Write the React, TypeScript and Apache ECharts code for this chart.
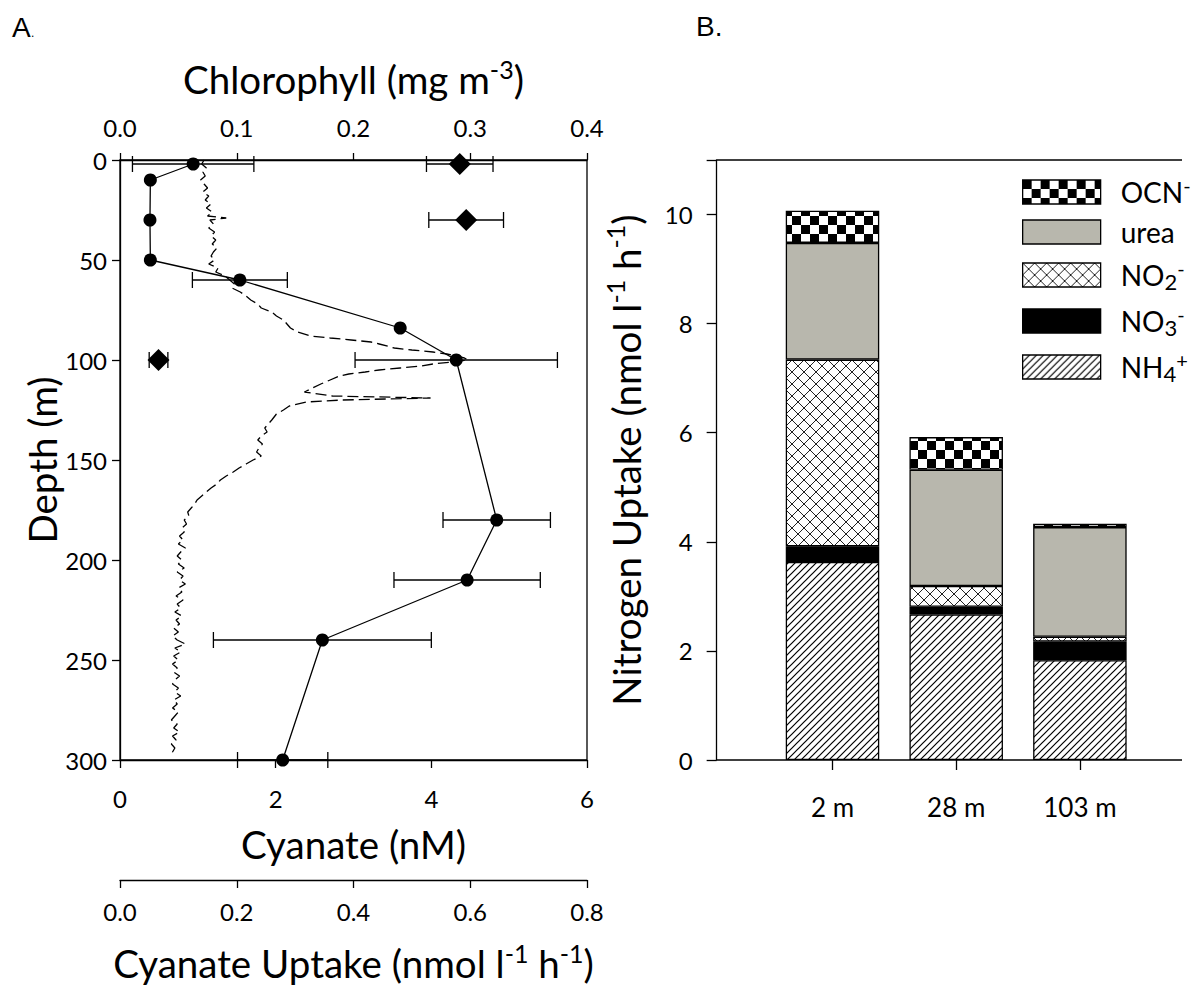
import React, { useEffect, useRef } from "react";
import * as echarts from "echarts";

const FONT = "Lato";

// ---------- Panel A ----------
const depthTicks = { min: 0, max: 300, step: 50 };

// Cyanate concentration profile (nM)
const cyanDepth = [2, 10, 30, 50, 60, 84, 100, 180, 210, 240, 300];
const cyanConc = [0.94, 0.39, 0.385, 0.39, 1.54, 3.6, 4.32, 4.84, 4.46, 2.6, 2.09];
const cyanErr = [0.78, 0, 0, 0, 0.61, 0, 1.3, 0.69, 0.94, 1.4, 0.58];

// Cyanate uptake (nmol l-1 h-1)
const uptakeDepth = [2, 30, 100];
const uptakeRate = [0.582, 0.593, 0.066];
const uptakeErr = [0.057, 0.064, 0.016];

// Chlorophyll fluorescence profile (mg m-3)
const chlDepth = [
  0, 2, 4, 6, 8, 10, 12, 14, 16, 18, 20, 22, 24, 26, 28, 29, 30, 32, 34, 36, 38, 40, 42, 44, 46, 48, 50,
  52, 54, 56, 58, 60, 62, 64, 66, 68, 70, 72, 74, 76, 78, 80, 82, 84, 86, 88, 89, 90, 91, 92, 94, 95, 96,
  97, 98, 99, 100, 101, 102, 103, 104, 105, 106, 107, 108, 110, 112, 114, 116, 118, 119, 120, 121, 123,
  125, 127, 130, 132, 134, 136, 138, 140, 142, 144, 146, 148, 150, 152, 154, 156, 158, 160, 162, 164, 166,
  168, 170, 172, 174, 176, 178, 180, 182, 184, 186, 188, 190, 192, 194, 196, 198, 200, 202, 204, 206, 208,
  210, 212, 214, 216, 218, 220, 222, 224, 226, 228, 230, 232, 234, 236, 238, 240, 242, 244, 246, 248, 250,
  252, 254, 256, 258, 260, 262, 264, 266, 268, 270, 272, 274, 276, 278, 280, 282, 284, 286, 288, 290, 292,
  294, 296, 298,
];
const chlValue = [
  0.072, 0.07, 0.074, 0.071, 0.073, 0.069, 0.072, 0.075, 0.071, 0.076, 0.073, 0.078, 0.074, 0.079, 0.075,
  0.091, 0.077, 0.08, 0.076, 0.081, 0.078, 0.082, 0.079, 0.083, 0.08, 0.078, 0.081, 0.076, 0.084, 0.082,
  0.09, 0.094, 0.098, 0.096, 0.103, 0.108, 0.112, 0.118, 0.121, 0.13, 0.134, 0.14, 0.143, 0.146, 0.152,
  0.163, 0.18, 0.198, 0.215, 0.222, 0.235, 0.25, 0.268, 0.28, 0.288, 0.295, 0.298, 0.284, 0.268, 0.258,
  0.24, 0.222, 0.21, 0.196, 0.188, 0.18, 0.172, 0.165, 0.158, 0.182, 0.266, 0.19, 0.16, 0.145, 0.14, 0.134,
  0.13, 0.127, 0.124, 0.126, 0.121, 0.118, 0.122, 0.119, 0.117, 0.121, 0.114, 0.108, 0.102, 0.097, 0.091,
  0.086, 0.083, 0.078, 0.074, 0.07, 0.066, 0.064, 0.061, 0.058, 0.059, 0.055, 0.057, 0.053, 0.055, 0.051,
  0.054, 0.05, 0.056, 0.052, 0.049, 0.053, 0.05, 0.055, 0.049, 0.054, 0.051, 0.056, 0.05, 0.053, 0.048,
  0.054, 0.049, 0.052, 0.047, 0.053, 0.048, 0.051, 0.046, 0.05, 0.045, 0.049, 0.056, 0.047, 0.052, 0.046,
  0.05, 0.045, 0.049, 0.046, 0.051, 0.047, 0.045, 0.05, 0.047, 0.052, 0.046, 0.049, 0.045, 0.05, 0.047,
  0.044, 0.049, 0.046, 0.051, 0.045, 0.048, 0.044, 0.047, 0.045, 0.046,
];

const chlTicks = { min: 0, max: 0.4, step: 0.1 };
const cyanTicks = { min: 0, max: 6, step: 2 };
const uptakeTicks = { min: 0, max: 0.8, step: 0.2 };

// ---------- Panel B ----------
const stations = ["2 m", "28 m", "103 m"];
const nh4 = [3.63, 2.67, 1.83];
const no3 = [0.29, 0.14, 0.34];
const no2 = [3.42, 0.38, 0.09];
const urea = [2.14, 2.13, 2.01];
const ocn = [0.59, 0.6, 0.06];
const nTickLabels = [0, 2, 4, 6, 8, 10];
const nTicks = [0, 2, 4, 6, 8, 10, 11];
const nMax = 11;

function makePattern(kind: string) {
  const size = kind === "check" ? 18 : kind === "hatch" ? 7 : 12;
  const c = document.createElement("canvas");
  c.width = size;
  c.height = size;
  const ctx = c.getContext("2d")!;
  ctx.fillStyle = "#fff";
  ctx.fillRect(0, 0, size, size);
  ctx.fillStyle = "#000";
  ctx.strokeStyle = "#000";
  if (kind === "check") {
    ctx.fillRect(0, 0, 9, 9);
    ctx.fillRect(9, 9, 9, 9);
  } else if (kind === "hatch") {
    ctx.lineWidth = 1.2;
    ctx.beginPath();
    ctx.moveTo(-1, size + 1);
    ctx.lineTo(size + 1, -1);
    ctx.moveTo(-2, 2);
    ctx.lineTo(2, -2);
    ctx.moveTo(size - 2, size + 2);
    ctx.lineTo(size + 2, size - 2);
    ctx.stroke();
  } else {
    ctx.strokeStyle = "#222";
    ctx.lineWidth = 1;
    ctx.beginPath();
    ctx.moveTo(0, 0);
    ctx.lineTo(size, size);
    ctx.moveTo(size, 0);
    ctx.lineTo(0, size);
    ctx.stroke();
  }
  return { image: c, repeat: "repeat", imageWidth: size, imageHeight: size } as any;
}

const axisLineStyle = { color: "#000", width: 1.3 };

function errorBars(data: number[][], xAxisIndex: number) {
  return {
    type: "custom",
    xAxisIndex,
    yAxisIndex: 0,
    data,
    encode: { x: [0, 1], y: 2 },
    clip: false,
    silent: true,
    z: 4,
    renderItem: (_p: any, api: any) => {
      const lo = api.coord([api.value(0), api.value(2)]);
      const hi = api.coord([api.value(1), api.value(2)]);
      const style = { stroke: "#000", lineWidth: 1.3 };
      const cap = 8;
      return {
        type: "group",
        children: [
          { type: "line", shape: { x1: lo[0], y1: lo[1], x2: hi[0], y2: hi[1] }, style },
          { type: "line", shape: { x1: lo[0], y1: lo[1] - cap, x2: lo[0], y2: lo[1] + cap }, style },
          { type: "line", shape: { x1: hi[0], y1: hi[1] - cap, x2: hi[0], y2: hi[1] + cap }, style },
        ],
      };
    },
  };
}

const TITLE = 38.5;
const supRich = {
  t: { fontSize: TITLE, fontFamily: FONT, color: "#000", lineHeight: 46 },
  s: { fontSize: 25, fontFamily: FONT, color: "#000", lineHeight: 24, verticalAlign: "top" },
};
const titleStyle = { fontSize: TITLE, fontFamily: FONT, color: "#000" };

export default function App() {
  const ref = useRef<HTMLDivElement>(null);

  useEffect(() => {
    if (!ref.current) return;
    const chart = echarts.init(ref.current, undefined, { renderer: "svg" });

    const cyanErrData = cyanDepth
      .map((d, i) => (cyanErr[i] > 0 ? [cyanConc[i] - cyanErr[i], cyanConc[i] + cyanErr[i], d] : null))
      .filter(Boolean) as number[][];
    const uptakeErrData = uptakeDepth.map((d, i) => [uptakeRate[i] - uptakeErr[i], uptakeRate[i] + uptakeErr[i], d]);

    const labelStyle = { fontSize: 24, fontFamily: FONT, color: "#000" };

    const barBase = {
      type: "bar",
      xAxisIndex: 3,
      yAxisIndex: 1,
      stack: "N",
      barWidth: 93.5,
      z: 3,
    };
    const border = { borderColor: "#000", borderWidth: 1.3 };

    const legendNames: Record<string, string> = {
      "OCN-": "{f|OCN}{sup|-}",
      urea: "{f|urea}",
      "NO2-": "{f|NO}{sub|2}{sup|-}",
      "NO3-": "{f|NO}{sub|3}{sup|-}",
      "NH4+": "{f|NH}{sub|4}{sup|+}",
    };

    const option: any = {
      animation: false,
      backgroundColor: "#fff",
      textStyle: { fontFamily: FONT },
      grid: [
        { left: 120, top: 160, width: 467, height: 600, show: true, borderColor: "#000", borderWidth: 1.3, backgroundColor: "transparent", outerBoundsMode: "none", containLabel: false },
        { left: 770.65, top: 160, width: 371.1, height: 600, show: false, outerBoundsMode: "none", containLabel: false },
      ],
      xAxis: [
        {
          type: "value",
          gridIndex: 0,
          position: "bottom",
          min: cyanTicks.min,
          max: cyanTicks.max,
          interval: cyanTicks.step,
          axisLine: { show: true, onZero: false, lineStyle: axisLineStyle },
          axisTick: { show: true, inside: false, length: 8, lineStyle: axisLineStyle },
          axisLabel: { ...labelStyle, margin: 26 },
          splitLine: { show: false },
          name: "Cyanate (nM)",
          nameLocation: "middle",
          nameGap: 64,
          nameTextStyle: titleStyle,
        },
        {
          type: "value",
          gridIndex: 0,
          position: "top",
          min: chlTicks.min,
          max: chlTicks.max,
          interval: chlTicks.step,
          axisLine: { show: true, onZero: false, lineStyle: axisLineStyle },
          axisTick: { show: true, inside: false, length: 7, lineStyle: axisLineStyle },
          axisLabel: { ...labelStyle, margin: 21, formatter: (v: number) => v.toFixed(1) },
          splitLine: { show: false },
          name: "{t|Chlorophyll (mg m}{s|-3}{t|)}",
          nameLocation: "middle",
          nameGap: 58,
          nameTextStyle: { ...titleStyle, rich: supRich },
        },
        {
          type: "value",
          gridIndex: 0,
          position: "bottom",
          offset: 120,
          min: uptakeTicks.min,
          max: uptakeTicks.max,
          interval: uptakeTicks.step,
          axisLine: { show: true, onZero: false, lineStyle: axisLineStyle },
          axisTick: { show: true, inside: false, length: 8, lineStyle: axisLineStyle },
          axisLabel: { ...labelStyle, margin: 19, formatter: (v: number) => v.toFixed(1) },
          splitLine: { show: false },
          name: "{t|Cyanate Uptake (nmol l}{s|-1}{t| h}{s|-1}{t|)}",
          nameLocation: "middle",
          nameGap: 60,
          nameTextStyle: { ...titleStyle, rich: supRich },
        },
        {
          type: "category",
          gridIndex: 1,
          data: stations,
          axisLine: { show: false, onZero: false },
          axisTick: { show: true, alignWithLabel: true, length: 10, lineStyle: axisLineStyle },
          axisLabel: { fontSize: 26, fontFamily: FONT, color: "#000", margin: 34 },
          splitLine: { show: false },
        },
      ],
      yAxis: [
        {
          type: "value",
          gridIndex: 0,
          inverse: true,
          min: depthTicks.min,
          max: depthTicks.max,
          interval: depthTicks.step,
          axisLine: { show: true, onZero: false, lineStyle: axisLineStyle },
          axisTick: { show: true, inside: false, length: 8, lineStyle: axisLineStyle },
          axisLabel: { ...labelStyle, margin: 13 },
          splitLine: { show: false },
          name: "Depth (m)",
          nameLocation: "middle",
          nameRotate: 90,
          nameGap: 38,
          nameTextStyle: titleStyle,
        },
        {
          type: "value",
          gridIndex: 1,
          min: 0,
          max: nMax,
          offset: 54,
          axisLine: { show: true, onZero: false, lineStyle: axisLineStyle },
          axisTick: { show: true, inside: false, length: 10, lineStyle: axisLineStyle, customValues: nTicks },
          axisLabel: { ...labelStyle, margin: 24, customValues: nTickLabels },
          splitLine: { show: false },
          name: "{t|Nitrogen Uptake (nmol l}{s|-1}{t| h}{s|-1}{t|)}",
          nameLocation: "middle",
          nameRotate: 90,
          nameGap: 68,
          nameTextStyle: { ...titleStyle, rich: supRich },
        },
      ],
      legend: {
        show: true,
        orient: "vertical",
        left: 1017,
        top: 170,
        itemWidth: 78,
        itemHeight: 24,
        itemGap: 12,
        itemStyle: { borderColor: "#000", borderWidth: 1.3 },
        icon: "rect",
        textStyle: {
          fontFamily: FONT,
          fontSize: 28,
          color: "#000",
          rich: {
            f: { fontSize: 28, fontFamily: FONT, color: "#000", lineHeight: 34, padding: [0, 0, 0, 15] },
            sub: { fontSize: 22, fontFamily: FONT, color: "#000", lineHeight: 22, verticalAlign: "bottom" },
            sup: { fontSize: 20, fontFamily: FONT, color: "#000", lineHeight: 18, verticalAlign: "top" },
          },
        },
        data: ["OCN-", "urea", "NO2-", "NO3-", "NH4+"],
        formatter: (name: string) => legendNames[name] || name,
        selectedMode: false,
      },
      graphic: [
        {
          type: "text",
          left: 12,
          top: 13,
          style: { text: "A", fontSize: 28, fontFamily: "Liberation Sans", fill: "#000" },
        },
        {
          type: "text",
          left: 31,
          top: 27,
          style: { text: ".", fontSize: 12, fontFamily: "Liberation Sans", fill: "#000" },
        },
        {
          type: "text",
          left: 696,
          top: 12,
          style: { text: "B.", fontSize: 28, fontFamily: "Liberation Sans", fill: "#000" },
        },
        { type: "line", shape: { x1: 716.7, y1: 160, x2: 1182, y2: 160 }, style: { stroke: "#000", lineWidth: 1.3 } },
        { type: "line", shape: { x1: 716.7, y1: 760, x2: 1182, y2: 760 }, style: { stroke: "#000", lineWidth: 1.3 } },
      ],
      series: [
        {
          name: "Chlorophyll",
          type: "line",
          xAxisIndex: 1,
          yAxisIndex: 0,
          data: chlDepth.map((d, i) => [chlValue[i], d]),
          showSymbol: false,
          symbol: "none",
          lineStyle: { color: "#000", width: 1.3, type: [11, 5] },
          z: 2,
        },
        errorBars(cyanErrData, 0),
        {
          name: "Cyanate",
          type: "line",
          xAxisIndex: 0,
          yAxisIndex: 0,
          data: cyanDepth.map((d, i) => [cyanConc[i], d]),
          symbol: "circle",
          symbolSize: 13,
          itemStyle: { color: "#000", opacity: 1 },
          lineStyle: { color: "#000", width: 1.3 },
          clip: false,
          z: 5,
        },
        errorBars(uptakeErrData, 2),
        {
          name: "Cyanate uptake",
          type: "scatter",
          xAxisIndex: 2,
          yAxisIndex: 0,
          data: uptakeDepth.map((d, i) => [uptakeRate[i], d]),
          symbol: "diamond",
          symbolSize: 22,
          itemStyle: { color: "#000", opacity: 1 },
          clip: false,
          z: 6,
        },
        { ...barBase, name: "NH4+", data: nh4, itemStyle: { color: makePattern("hatch"), ...border } },
        { ...barBase, name: "NO3-", data: no3, itemStyle: { color: "#000", ...border } },
        { ...barBase, name: "NO2-", data: no2, itemStyle: { color: makePattern("cross"), ...border } },
        { ...barBase, name: "urea", data: urea, itemStyle: { color: "#b8b7ad", ...border } },
        { ...barBase, name: "OCN-", data: ocn, itemStyle: { color: makePattern("check"), ...border } },
      ],
    };

    chart.setOption(option);
    return () => chart.dispose();
  }, []);

  return (
    <div
      ref={ref}
      style={{ position: "fixed", left: 0, top: 0, width: 1193, height: 993, background: "#fff" }}
    />
  );
}
